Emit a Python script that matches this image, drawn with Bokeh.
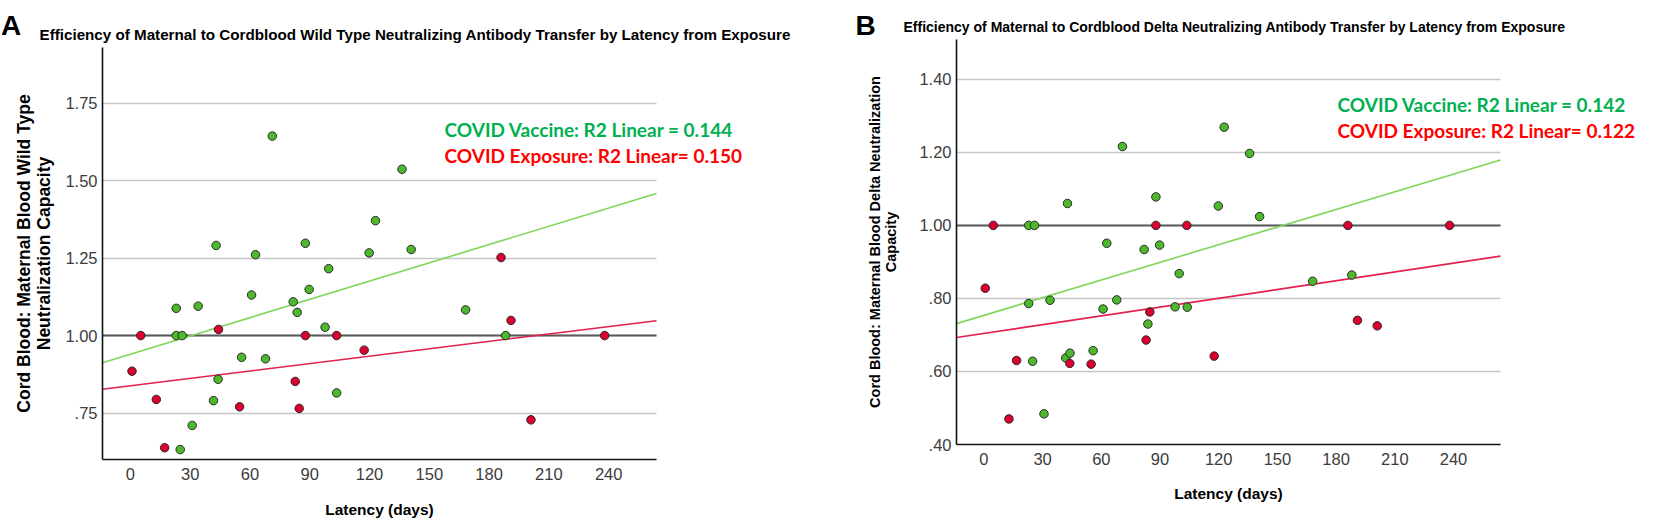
from bokeh.plotting import figure
from bokeh.models import FixedTicker, Label
from bokeh.layouts import row, column
from bokeh.embed import file_html
from bokeh.resources import INLINE

# ---------------- data ----------------
x_ticks = [0, 30, 60, 90, 120, 150, 180, 210, 240]
x_limits = (-14, 264)
ref_level = 1.0

# Panel A: Wild Type
A_y_ticks = [0.75, 1.00, 1.25, 1.50, 1.75]
A_y_labels = [".75", "1.00", "1.25", "1.50", "1.75"]
A_y_limits = (0.60, 1.93)
A_vax_days = [23.0, 23.0, 26.0, 34.0, 43.0, 41.7, 44.0, 31.0, 25.0, 55.8, 60.8, 62.8, 67.8, 71.2,
              81.7, 83.7, 87.8, 89.7, 97.7, 99.5, 103.5, 119.8, 123.0, 136.3, 140.9, 168.2, 188.3]
A_vax_vals = [1.088, 1.00, 1.00, 1.095, 1.291, 0.790, 0.859, 0.710, 0.632, 0.930, 1.131, 1.261, 0.925, 1.644,
              1.109, 1.075, 1.298, 1.149, 1.027, 1.216, 0.815, 1.267, 1.371, 1.537, 1.278, 1.083, 1.00]
A_exp_days = [0.8, 5.2, 13.0, 17.2, 44.2, 54.8, 82.7, 84.7, 87.8, 103.5, 117.3, 186.0, 191.0, 201.0, 238.0]
A_exp_vals = [0.885, 1.00, 0.794, 0.638, 1.020, 0.770, 0.852, 0.765, 1.00, 1.00, 0.953, 1.252, 1.049, 0.728, 1.00]
A_vax_fit = (0.940, 0.001966)   # intercept, slope
A_exp_fit = (0.838, 0.000796)

# Panel B: Delta
B_y_ticks = [0.40, 0.60, 0.80, 1.00, 1.20, 1.40]
B_y_labels = [".40", ".60", ".80", "1.00", "1.20", "1.40"]
B_y_limits = (0.40, 1.509)
B_vax_days = [22.9, 25.9, 42.7, 62.8, 70.8, 81.9, 87.9, 89.8, 99.8, 119.8, 122.8, 22.9, 24.9, 30.7,
              33.8, 41.8, 44.0, 55.8, 60.9, 67.9, 83.8, 97.7, 103.9, 135.8, 140.9, 168.0, 188.0]
B_vax_vals = [1.00, 1.00, 1.060, 0.951, 1.216, 0.934, 1.078, 0.946, 0.868, 1.053, 1.269, 0.786, 0.628, 0.484,
              0.795, 0.637, 0.650, 0.657, 0.771, 0.796, 0.730, 0.777, 0.776, 1.197, 1.024, 0.847, 0.864]
B_exp_days = [0.7, 4.8, 12.8, 16.7, 43.9, 54.8, 82.9, 84.8, 87.9, 103.7, 117.7, 186.0, 190.9, 201.0, 238.0]
B_exp_vals = [0.828, 1.00, 0.470, 0.630, 0.622, 0.620, 0.686, 0.763, 1.00, 1.00, 0.642, 1.00, 0.740, 0.725, 1.00]
B_vax_fit = (0.7536, 0.001612)
B_exp_fit = (0.704, 0.000802)

A_title = "Efficiency of Maternal to Cordblood Wild Type Neutralizing Antibody Transfer by Latency from Exposure"
B_title = "Efficiency of Maternal to Cordblood Delta Neutralizing Antibody Transfer by Latency from Exposure"
A_ylabel = "Cord Blood: Maternal Blood Wild Type\nNeutralization Capacity"
B_ylabel = "Cord Blood: Maternal Blood Delta Neutralization\nCapacity"
x_label = "Latency (days)"
A_notes = ["COVID Vaccine: R2 Linear = 0.144", "COVID Exposure: R2 Linear= 0.150"]
B_notes = ["COVID Vaccine: R2 Linear = 0.142", "COVID Exposure: R2 Linear= 0.122"]
letters = ["A", "B"]

# ---------------- styling ----------------
GREEN_PT = "#4cb82c"
RED_PT = "#dc0030"
GREEN_LN = "#7fd65a"
RED_LN = "#e4204c"
GREEN_TX = "#00b050"
RED_TX = "#ff0000"
TICK_FONT = "Liberation Sans"
LABEL_FONT = "Liberation Sans"
NOTE_FONT = "Lato"


class Geo:
    """Maps page pixel positions to data coordinates for one figure (page origin = top-left)."""
    def __init__(self, page_left, width, height, bl, br, bt, bb, plot_right_px, yr):
        self.page_left, self.width, self.height = page_left, width, height
        self.bl, self.br, self.bt, self.bb = bl, br, bt, bb
        self.fl = page_left + bl
        self.fr = page_left + width - br
        self.ft = bt
        self.fh = height - bt - bb
        self.xpp = (x_limits[1] - x_limits[0]) / (plot_right_px - self.fl)
        self.xr = (x_limits[0], x_limits[0] + (self.fr - self.fl) * self.xpp)
        self.yr = yr

    def dx(self, px):
        return x_limits[0] + (px - self.fl) * self.xpp

    def dy(self, py):
        return self.yr[1] - (py - self.ft) / self.fh * (self.yr[1] - self.yr[0])


def make_panel(g, yticks, ylabels, ylabel, vax, exp, vfit, efit,
               yl_size, yl_line_h, yl_standoff):
    p = figure(width=g.width, height=g.height, x_range=g.xr, y_range=g.yr,
               output_backend="svg", toolbar_location=None,
               min_border_left=g.bl, min_border_right=g.br, min_border_top=g.bt, min_border_bottom=g.bb)
    p.outline_line_color = None
    p.background_fill_color = "white"
    p.border_fill_color = "white"
    p.xgrid.visible = False
    p.ygrid.ticker = FixedTicker(ticks=yticks)
    p.ygrid.grid_line_color = "#c6c6c6"
    p.ygrid.grid_line_width = 1.3
    p.ygrid.cross_bounds = x_limits

    p.xaxis.ticker = FixedTicker(ticks=x_ticks)
    p.xaxis.bounds = x_limits
    p.yaxis.ticker = FixedTicker(ticks=yticks)
    p.yaxis.major_label_overrides = {t: l for t, l in zip(yticks, ylabels)}
    for ax in (p.xaxis, p.yaxis):
        ax.major_tick_line_color = None
        ax.minor_tick_line_color = None
        ax.major_tick_out = 0
        ax.major_tick_in = 0
        ax.axis_line_color = "#111111"
        ax.axis_line_width = 1.6
        ax.major_label_text_font = TICK_FONT
        ax.major_label_text_font_size = "16.5px"
        ax.major_label_text_color = "#3c3c3c"
        ax.axis_label_text_font = LABEL_FONT
        ax.axis_label_text_font_style = "bold"
        ax.axis_label_text_color = "#000000"
    p.xaxis.major_label_standoff = 8
    p.yaxis.major_label_standoff = 5
    p.yaxis.axis_label = ylabel
    p.yaxis.axis_label_text_font_size = yl_size
    p.yaxis.axis_label_text_line_height = yl_line_h
    p.yaxis.axis_label_standoff = yl_standoff

    # reference line at 1.00
    p.segment(x0=[x_limits[0]], y0=[ref_level], x1=[x_limits[1]], y1=[ref_level],
              line_color="#5a5a5a", line_width=2)

    xs = list(x_limits)
    p.line(xs, [vfit[0] + vfit[1] * x for x in xs], line_color=GREEN_LN, line_width=1.6)
    p.line(xs, [efit[0] + efit[1] * x for x in xs], line_color=RED_LN, line_width=1.6)

    p.scatter(vax[0], vax[1], size=8.5, fill_color=GREEN_PT, line_color="#2a2a2a", line_width=1)
    p.scatter(exp[0], exp[1], size=8.5, fill_color=RED_PT, line_color="#2a2a2a", line_width=1)
    return p


def add_text(p, g, text, pos, size, side=None, color="#000000", font=LABEL_FONT,
             align="left", baseline="middle"):
    lbl = Label(x=g.dx(pos[0]), y=g.dy(pos[1]), text=text,
                text_font=font, text_font_style="bold", text_font_size=size,
                text_align=align, text_baseline=baseline, text_color=color)
    if side is None:
        p.add_layout(lbl)
    else:
        p.add_layout(lbl, side)


# figure A: page x 0..850, plot area x 102..656, y 47..459
gA = Geo(0, 850, 521, 102, 22, 47, 62, 656, A_y_limits)
# figure B: page x 850..1668, plot area x 956..1500, y 39..444
gB = Geo(850, 818, 521, 106, 25, 39, 77, 1500, B_y_limits)

pA = make_panel(gA, A_y_ticks, A_y_labels, A_ylabel, (A_vax_days, A_vax_vals), (A_exp_days, A_exp_vals),
                A_vax_fit, A_exp_fit, "17.5px", 1.0, 8)
pB = make_panel(gB, B_y_ticks, B_y_labels, B_ylabel, (B_vax_days, B_vax_vals), (B_exp_days, B_exp_vals),
                B_vax_fit, B_exp_fit, "14.5px", 1.05, 17)

# titles (above the plot area)
add_text(pA, gA, A_title, (39, 34), "15.2px", side="above")
add_text(pB, gB, B_title, (903, 26.5), "14px", side="above")
# x-axis titles (below the plot area, centred under the plotted range)
add_text(pA, gA, x_label, ((gA.fl + 656) / 2, 509), "15.5px", side="below", align="center")
add_text(pB, gB, x_label, ((gB.fl + 1500) / 2, 493), "15.5px", side="below", align="center")
# R2 notes
for txt, col, py in zip(A_notes, [GREEN_TX, RED_TX], (129, 155)):
    add_text(pA, gA, txt, (444, py), "19px", color=col, font=NOTE_FONT)
for txt, col, py in zip(B_notes, [GREEN_TX, RED_TX], (104, 130)):
    add_text(pB, gB, txt, (1337, py), "19px", color=col, font=NOTE_FONT)
# panel letters
add_text(pA, gA, letters[0], (0.5, 25), "28px", side="right", baseline="alphabetic")
add_text(pB, gB, letters[1], (855, 25), "28px", side="right", baseline="alphabetic")

layout = row(column(pA), column(pB))
open("out.html", "w").write(file_html(layout, INLINE))
